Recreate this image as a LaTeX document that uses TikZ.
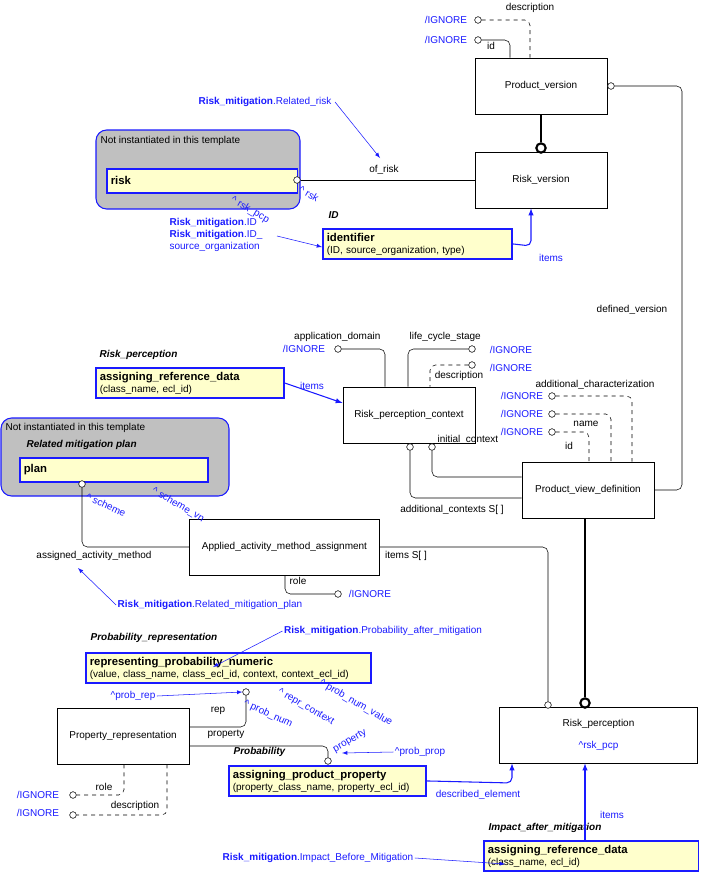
\documentclass[tikz,border=0pt]{standalone}
\usepackage{fontspec}
\setmainfont{Liberation Sans}
\usetikzlibrary{positioning}
\definecolor{ibl}{RGB}{26,26,255}
\definecolor{pale}{RGB}{255,255,204}
\definecolor{greybox}{RGB}{192,192,192}
\begin{document}
\begin{tikzpicture}[x=0.75pt,y=-0.75pt,font=\fontsize{7.5}{9}\selectfont,
ent/.style={draw,semithick,fill=white,minimum width=99pt,minimum height=42pt,inner sep=1pt,align=center},
tpl/.style={draw=ibl,very thick,fill=pale,align=left,anchor=north west,inner sep=3pt},
grp/.style={draw=ibl,thick,fill=greybox,rounded corners=8pt},
oc/.style={circle,draw,fill=white,inner sep=0pt,minimum size=5pt},
boc/.style={circle,draw,line width=1.6pt,fill=white,inner sep=0pt,minimum size=7pt},
blu/.style={text=ibl},
note/.style={blu,inner sep=1pt},
lbl/.style={inner sep=1pt},
ital/.style={font=\fontsize{7.5}{9}\selectfont\bfseries\itshape,inner sep=1pt},
ptr/.style={draw=ibl,-latex},
bptr/.style={draw=ibl,thick,-latex},
rl/.style={rounded corners=4pt}]
\useasboundingbox (0,0) rectangle (701,878);
% entities
\node (pv) [ent] at (541,86) {Product\_version};
\node (rv) [ent] at (541,180) {Risk\_version};
\node (rpc) [ent] at (409,415) {Risk\_perception\_context};
\node (pvd) [ent] at (588,490) {Product\_view\_definition};
\node (aama) [ent,minimum width=142pt] at (284.5,547) {Applied\_activity\_method\_assignment};
\node (rp) [ent,minimum width=148pt] at (598.5,735) {Risk\_perception\\[8pt]{\color{ibl}\textasciicircum rsk\_pcp}};
\node (pr) [ent] at (123,736) {Property\_representation};
% groups
\draw [grp] (96,130) rectangle (300,209);
\node [lbl,anchor=west] at (99,141) {Not instantiated in this template};
\node (risk) [tpl,text width=137pt,minimum height=18pt] at (106,168) {\textbf{\fontsize{8.5}{10}\selectfont risk}};
\draw [grp] (1,418) rectangle (229,496);
\node [lbl,anchor=west] at (4,428) {Not instantiated in this template};
\node [ital,anchor=west] at (25,445) {Related mitigation plan};
\node (plan) [tpl,text width=135pt,minimum height=18pt] at (19,457) {\textbf{\fontsize{8.5}{10}\selectfont plan}};
% templates
\node [ital,anchor=west] at (327,215) {ID};
\node (ident) [tpl,text width=136pt] at (322,228) {\textbf{\fontsize{8.5}{10}\selectfont identifier}\\(ID, source\_organization, type)};
\node [ital,anchor=west] at (98,355) {Risk\_perception};
\node (ard) [tpl,text width=135pt] at (95,367) {\textbf{\fontsize{8.5}{10}\selectfont assigning\_reference\_data}\\(class\_name, ecl\_id)};
\node [ital,anchor=west] at (89,638) {Probability\_representation};
\node (rpn) [tpl,text width=208pt] at (85,652) {\textbf{\fontsize{8.5}{10}\selectfont representing\_probability\_numeric}\\(value, class\_name, class\_ecl\_id, context, context\_ecl\_id)};
\node [ital,anchor=west] at (232,752) {Probability};
\node (app) [tpl,text width=142pt] at (228,765) {\textbf{\fontsize{8.5}{10}\selectfont assigning\_product\_property}\\(property\_class\_name, property\_ecl\_id)};
\node [ital,anchor=west] at (487,828) {Impact\_after\_mitigation};
\node (ard2) [tpl,text width=155pt] at (483,840) {\textbf{\fontsize{8.5}{10}\selectfont assigning\_reference\_data}\\(class\_name, ecl\_id)};
% circles
\node (c1) [oc] at (478,20) {}; \node (c2) [oc] at (478,40) {};
\node (c3) [oc] at (611,86) {};
\node (c4) [oc] at (297,180) {};
\node (c5) [oc] at (338,349) {}; \node (c6) [oc] at (472,349) {}; \node (c7) [oc] at (472,365) {};
\node (c8) [oc] at (552,396) {}; \node (c9) [oc] at (552,414) {}; \node (c10) [oc] at (552,432) {};
\node (c11) [oc] at (410,447) {}; \node (c12) [oc] at (432,447) {};
\node (c13) [oc] at (82,484) {}; \node (c14) [oc] at (338,594) {};
\node (c15) [oc] at (548,705) {}; \node (c16) [boc] at (585,703) {}; \node (c17) [boc] at (541,148) {};
\node (c18) [oc] at (246,692) {}; \node (c19) [oc] at (328,761) {};
\node (c20) [oc] at (73,795) {}; \node (c21) [oc] at (73,815) {};
% connectors
\draw [dashed,rl] (c1) -- (530,20) -- (pv.north -| 530,0);
\draw [rl] (c2) -- (510,40) -- (pv.north -| 510,0);
\draw [rl] (c3) -- (682,86) -- (682,490) -- (pvd.east);
\draw [line width=2pt] (pv.south) -- (c17);
\draw (c4) -- (rv.west);
\draw [bptr,rl] (ident.east) -- (531,246) -- (rv.south -| 531,0);
\draw [rl] (c5) -- (385,349) -- (rpc.north -| 385,0);
\draw [rl] (c6) -- (408,349) -- (rpc.north -| 408,0);
\draw [dashed,rl] (c7) -- (430,365) -- (rpc.north -| 430,0);
\draw [dashed,rl] (c8) -- (632,396) -- (pvd.north -| 632,0);
\draw [dashed,rl] (c9) -- (611,414) -- (pvd.north -| 611,0);
\draw [dashed,rl] (c10) -- (589,432) -- (pvd.north -| 589,0);
\draw [rl] (c12) -- (432,477) -- (pvd.west |- 0,477);
\draw [rl] (c11) -- (410,498) -- (pvd.west |- 0,498);
\draw [bptr] (ard.east) -- (rpc.west |- 0,403);
\draw [rl] (aama.west) -- (82,547) -- (c13);
\draw [rl] (aama.east) -- (548,547) -- (c15);
\draw [rl] (aama.south -| 285,0) -- (285,594) -- (c14);
\draw [line width=2pt] (pvd.south -| 585,0) -- (c16);
\draw [rl] (pr.east |- 0,727) -- (246,727) -- (c18);
\draw [rl] (pr.east |- 0,746) -- (328,746) -- (c19);
\draw [dashed,rl] (pr.south -| 124,0) -- (124,795) -- (c20);
\draw [dashed,rl] (pr.south -| 167,0) -- (167,815) -- (c21);
\draw [bptr,rl] (app.east) -- (512,783) -- (rp.south -| 512,0);
\draw [bptr] (ard2.north -| 585,0) -- (rp.south -| 585,0);
% labels
\node [lbl] at (530,8) {description};
\node [lbl] at (491,46) {id};
\node [note] at (446,20) {/IGNORE}; \node [note] at (446,40) {/IGNORE};
\node [lbl] at (384,170) {of\_risk};
\node [note,rotate=-30] at (309,194) {\textasciicircum\ rsk};
\node [note,rotate=-30] at (250,210) {\textasciicircum\ rsk\_pcp};
\node [note] at (551,258) {items};
\node [lbl] at (632,310) {defined\_version};
\node [lbl,anchor=east] at (382,337) {application\_domain};
\node [lbl,anchor=west] at (408,337) {life\_cycle\_stage};
\node [note] at (304,349) {/IGNORE}; \node [note] at (511,350) {/IGNORE}; \node [note] at (511,368) {/IGNORE};
\node [lbl] at (459,376) {description};
\node [note] at (312,386) {items};
\node [lbl] at (595,385) {additional\_characterization};
\node [note] at (522,396) {/IGNORE}; \node [note] at (522,414) {/IGNORE}; \node [note] at (522,432) {/IGNORE};
\node [lbl] at (586,424) {name};
\node [lbl] at (569,446) {id};
\node [lbl,anchor=west] at (436,440) {initial\_context};
\node [lbl] at (452,510) {additional\_contexts S[ ]};
\node [note,rotate=-25] at (106,505) {\textasciicircum\ scheme};
\node [note,rotate=-30] at (178,505) {\textasciicircum\ scheme\_vn};
\node [lbl] at (94,556) {assigned\_activity\_method};
\node [lbl] at (406,556) {items S[ ]};
\node [lbl] at (298,581) {role};
\node [note] at (370,594) {/IGNORE};
\node [lbl] at (218,711) {rep};
\node [lbl] at (226,734) {property};
\node [note,rotate=-25] at (268,714) {\textasciicircum\ prob\_num};
\node [note,rotate=-30] at (306,707) {\textasciicircum\ repr\_context};
\node [note,rotate=-30] at (356,703) {\textasciicircum\ prob\_num\_value};
\node [note,rotate=30] at (350,741) {property};
\node [lbl] at (104,787) {role};
\node [lbl] at (135,806) {description};
\node [note] at (38,795) {/IGNORE}; \node [note] at (38,813) {/IGNORE};
\node [note] at (478,795) {described\_element};
\node [note] at (612,815) {items};
% notes with pointers
\node (nrr) [note] at (265,102) {\textbf{Risk\_mitigation}.Related\_risk};
\draw [ptr] (nrr.east) ++(2,0) -- (380,158);
\node (nid) [note,align=left,anchor=west] at (168,235) {\textbf{Risk\_mitigation}.ID\\\textbf{Risk\_mitigation}.ID\_\\source\_organization};
\draw [ptr] (277,236) -- (ident.west |- 0,247);
\node (nrmp) [note] at (210,605) {\textbf{Risk\_mitigation}.Related\_mitigation\_plan};
\draw [ptr] (nrmp.west) -- (78,568);
\node (npam) [note] at (383,631) {\textbf{Risk\_mitigation}.Probability\_after\_mitigation};
\draw [ptr] (npam.west) -- (213,667);
\node (npr) [note] at (133,696) {\textasciicircum prob\_rep};
\draw [ptr] (npr.east) -- (c18.west);
\node (npp) [note] at (420,752) {\textasciicircum prob\_prop};
\draw [ptr] (npp.west) -- (342,753);
\node (nibm) [note] at (318,858) {\textbf{Risk\_mitigation}.Impact\_Before\_Mitigation};
\draw [ptr] (nibm.east) -- (505,864);
\end{tikzpicture}
\end{document}
